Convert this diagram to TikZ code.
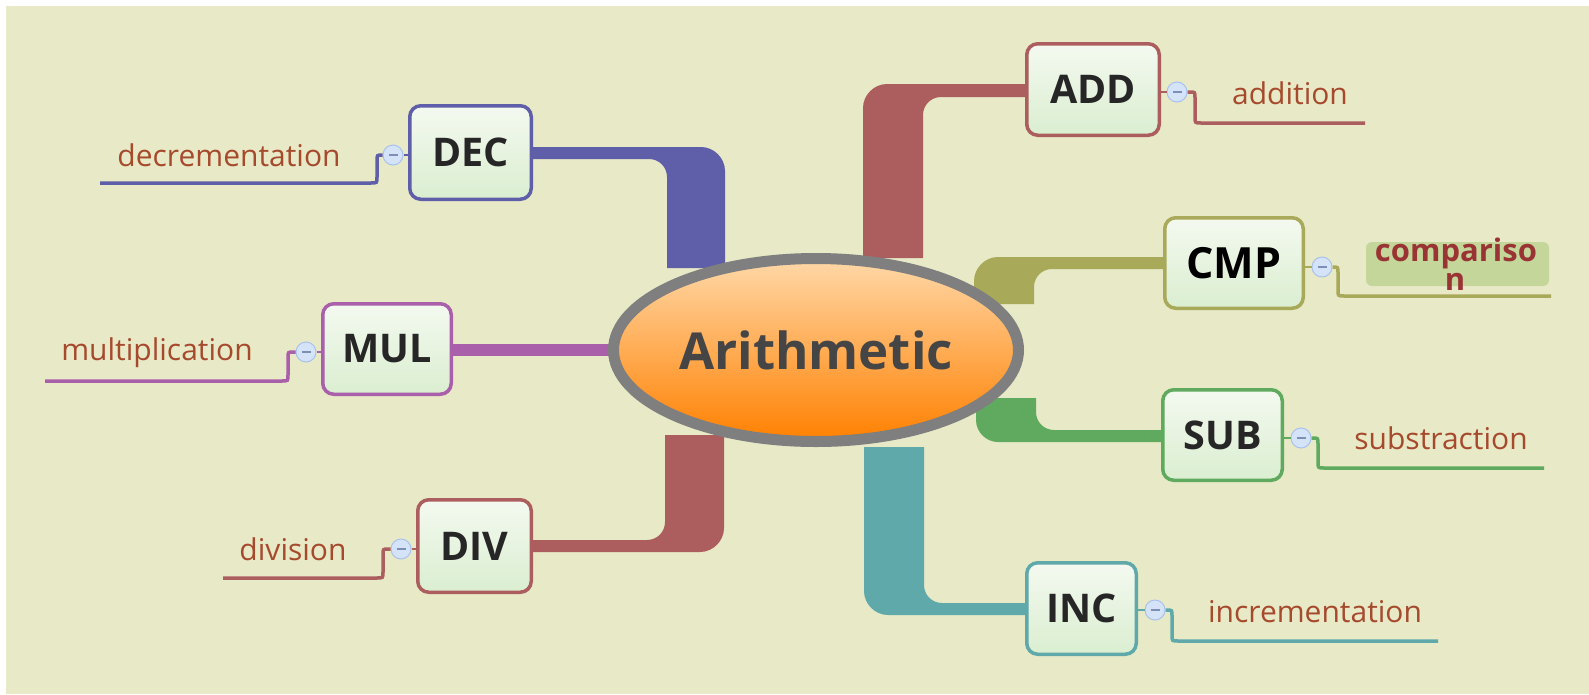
\documentclass[tikz,border=0pt]{standalone}
\usepackage{fontspec}
\setmainfont{Open Sans}
\usetikzlibrary{shapes.geometric}
\definecolor{bgc}{HTML}{E8E9C6}
\definecolor{decc}{HTML}{5F5EA8}
\definecolor{addc}{HTML}{AC5E5E}
\definecolor{cmpc}{HTML}{A9A95A}
\definecolor{subc}{HTML}{5FAA5F}
\definecolor{incc}{HTML}{5FA9AA}
\definecolor{mulc}{HTML}{A95FAA}
\definecolor{labc}{HTML}{A64A2E}
\definecolor{boxtext}{HTML}{262626}
\definecolor{boxtop}{HTML}{F4F9F0}
\definecolor{boxbot}{HTML}{DAEED0}
\definecolor{ringc}{HTML}{7F7F7F}
\definecolor{ovtop}{HTML}{FFD8A8}
\definecolor{ovbot}{HTML}{FF8000}
\definecolor{togf}{HTML}{D5E3F8}
\definecolor{togb}{HTML}{A9C1EE}
\definecolor{togm}{HTML}{7C8FB5}
\definecolor{cmpbg}{HTML}{C4D699}
\definecolor{cmptxt}{HTML}{9A3333}
\tikzset{
  opbox/.style={draw=#1, line width=3.5pt, rounded corners=11pt, top color=boxtop, bottom color=boxbot,
    font=\bfseries\fontsize{39.5}{40}\selectfont, text=boxtext, inner sep=0pt},
  lab/.style={font=\fontsize{30}{36}\selectfont, text=labc, inner sep=0pt, anchor=base},
  tog/.style={circle, draw=togb, fill=togf, line width=1pt, minimum size=20pt, inner sep=0pt,
    path picture={\draw[togm, line width=1.2pt] ([xshift=-4.5pt]path picture bounding box.center) -- ([xshift=4.5pt]path picture bounding box.center);}},
  subl/.style={line width=3.5pt, draw=#1},
  link/.style={line width=2pt, draw=#1}
}
\begin{document}
\begin{tikzpicture}[x=1pt,y=-1pt]
\useasboundingbox (0,0) rectangle (1589,694);
\fill[white] (0,0) rectangle (1589,694);
\fill[bgc] (6,6) rectangle (1589,694);

% main branches
\fill[addc] (1027,84) -- (887,84) .. controls (874,84) and (863,95) .. (863,108) -- (863,258) -- (923,258) -- (923,115) .. controls (923,105) and (931,97) .. (941,97) -- (1027,97) -- cycle;
\fill[decc] (531,147) -- (701,147) .. controls (714,147) and (725,158) .. (725,171) -- (725,268) -- (667,268) -- (667,177) .. controls (667,167) and (659,159) .. (649,159) -- (531,159) -- cycle;
\fill[cmpc] (1165,257) -- (998,257) .. controls (985,257) and (974,268) .. (974,281) -- (974,304) -- (1034,304) -- (1034,287) .. controls (1034,277) and (1042,269) .. (1052,269) -- (1165,269) -- cycle;
\fill[subc] (1163,430) -- (1054,430) .. controls (1044,430) and (1036,422) .. (1036,412) -- (1036,398) -- (976,398) -- (976,420) .. controls (976,432) and (986,442) .. (998,442) -- (1163,442) -- cycle;
\fill[incc] (1027,603) -- (942,603) .. controls (932,603) and (924,595) .. (924,585) -- (924,447) -- (864,447) -- (864,591) .. controls (864,604) and (875,615) .. (888,615) -- (1027,615) -- cycle;
\fill[mulc] (451,344) -- (620,344) -- (620,356) -- (451,356) -- cycle;
\fill[addc] (531,540) -- (647,540) .. controls (657,540) and (665,532) .. (665,522) -- (665,435) -- (724,435) -- (724,528) .. controls (724,541) and (713,552) .. (700,552) -- (531,552) -- cycle;

% central topic
\node[ellipse, draw=ringc, line width=11pt, top color=ovtop, bottom color=ovbot, minimum width=405pt, minimum height=183pt, inner sep=0pt,
  font=\bfseries\fontsize{51}{52}\selectfont, text={rgb,255:red,69;green,69;blue,69}] (root) at (816,350) {Arithmetic};

% boxes
\node[opbox=decc, minimum width=121.5pt, minimum height=93.5pt] (dec) at (470.5,152.5) {DEC};
\node[opbox=addc, minimum width=132.5pt, minimum height=91.5pt] (add) at (1093,89.5) {ADD};
\node[opbox=cmpc, minimum width=138.5pt, minimum height=90.5pt, font=\bfseries\fontsize{43}{44}\selectfont, text=black] (cmp) at (1234,263) {CMP};
\node[opbox=subc, minimum width=119.5pt, minimum height=90.5pt] (sub) at (1222.5,435) {SUB};
\node[opbox=incc, minimum width=109.5pt, minimum height=91.5pt] (inc) at (1081.5,608.5) {INC};
\node[opbox=mulc, minimum width=128.5pt, minimum height=90.5pt] (mul) at (387,349) {MUL};
\node[opbox=addc, minimum width=113.5pt, minimum height=92.5pt] (div) at (474.5,546) {DIV};

% toggles
\node[tog] (tdec) at (393,155) {};
\node[tog] (tmul) at (306,352) {};
\node[tog] (tdiv) at (401,549) {};
\node[tog] (tadd) at (1177,92) {};
\node[tog] (tcmp) at (1322,267) {};
\node[tog] (tsub) at (1301,438) {};
\node[tog] (tinc) at (1155,610) {};

% links box -> toggle
\draw[link=decc] (tdec.east) -- (tdec.east -| dec.west);
\draw[link=mulc] (tmul.east) -- (tmul.east -| mul.west);
\draw[link=addc] (tdiv.east) -- (tdiv.east -| div.west);
\draw[link=addc] (tadd.west) -- (tadd.west -| add.east);
\draw[link=cmpc] (tcmp.west) -- (tcmp.west -| cmp.east);
\draw[link=subc] (tsub.west) -- (tsub.west -| sub.east);
\draw[link=incc] (tinc.west) -- (tinc.west -| inc.east);

% sub-line ends
\coordinate (edec) at (100,183);
\coordinate (emul) at (45,381);
\coordinate (ediv) at (223,578);
\coordinate (eadd) at (1365,123);
\coordinate (ecmp) at (1551,296);
\coordinate (esub) at (1544,468);
\coordinate (einc) at (1438,641);

\draw[subl=decc] (tdec.west) -- (382,155) .. controls (377,155) .. (377,161) -- (377,177) .. controls (377,183) .. (371,183) -- (edec);
\draw[subl=mulc] (tmul.west) -- (293,352) .. controls (288,352) .. (288,358) -- (288,375) .. controls (288,381) .. (282,381) -- (emul);
\draw[subl=addc] (tdiv.west) -- (388,549) .. controls (383,549) .. (383,555) -- (383,572) .. controls (383,578) .. (377,578) -- (ediv);
\draw[subl=addc] (tadd.east) -- (1190,92) .. controls (1195,92) .. (1195,98) -- (1195,117) .. controls (1195,123) .. (1201,123) -- (eadd);
\draw[subl=cmpc] (tcmp.east) -- (1333,267) .. controls (1338,267) .. (1338,273) -- (1338,290) .. controls (1338,296) .. (1344,296) -- (ecmp);
\draw[subl=subc] (tsub.east) -- (1313,438) .. controls (1318,438) .. (1318,444) -- (1318,462) .. controls (1318,468) .. (1324,468) -- (esub);
\draw[subl=incc] (tinc.east) -- (1167,610) .. controls (1172,610) .. (1172,616) -- (1172,635) .. controls (1172,641) .. (1178,641) -- (einc);

% labels
\node[lab] (ldec) at (229,166) {decrementation};
\node[lab] (lmul) at (157,360) {multiplication};
\node[lab] (ldiv) at (293,560) {division};
\node[lab] (ladd) at (1290,104) {addition};
\node[lab] (lsub) at (1441,449) {substraction};
\node[lab] (linc) at (1315,622) {incrementation};
\fill[cmpbg, rounded corners=6pt] (1366,242) rectangle (1549,286);
\node[lab, font=\bfseries\fontsize{31}{36}\selectfont, text=cmptxt] (lcmp1) at (1456,261) {compariso};
\node[lab, font=\bfseries\fontsize{31}{36}\selectfont, text=cmptxt] (lcmp2) at (1455,290) {n};
\end{tikzpicture}
\end{document}
